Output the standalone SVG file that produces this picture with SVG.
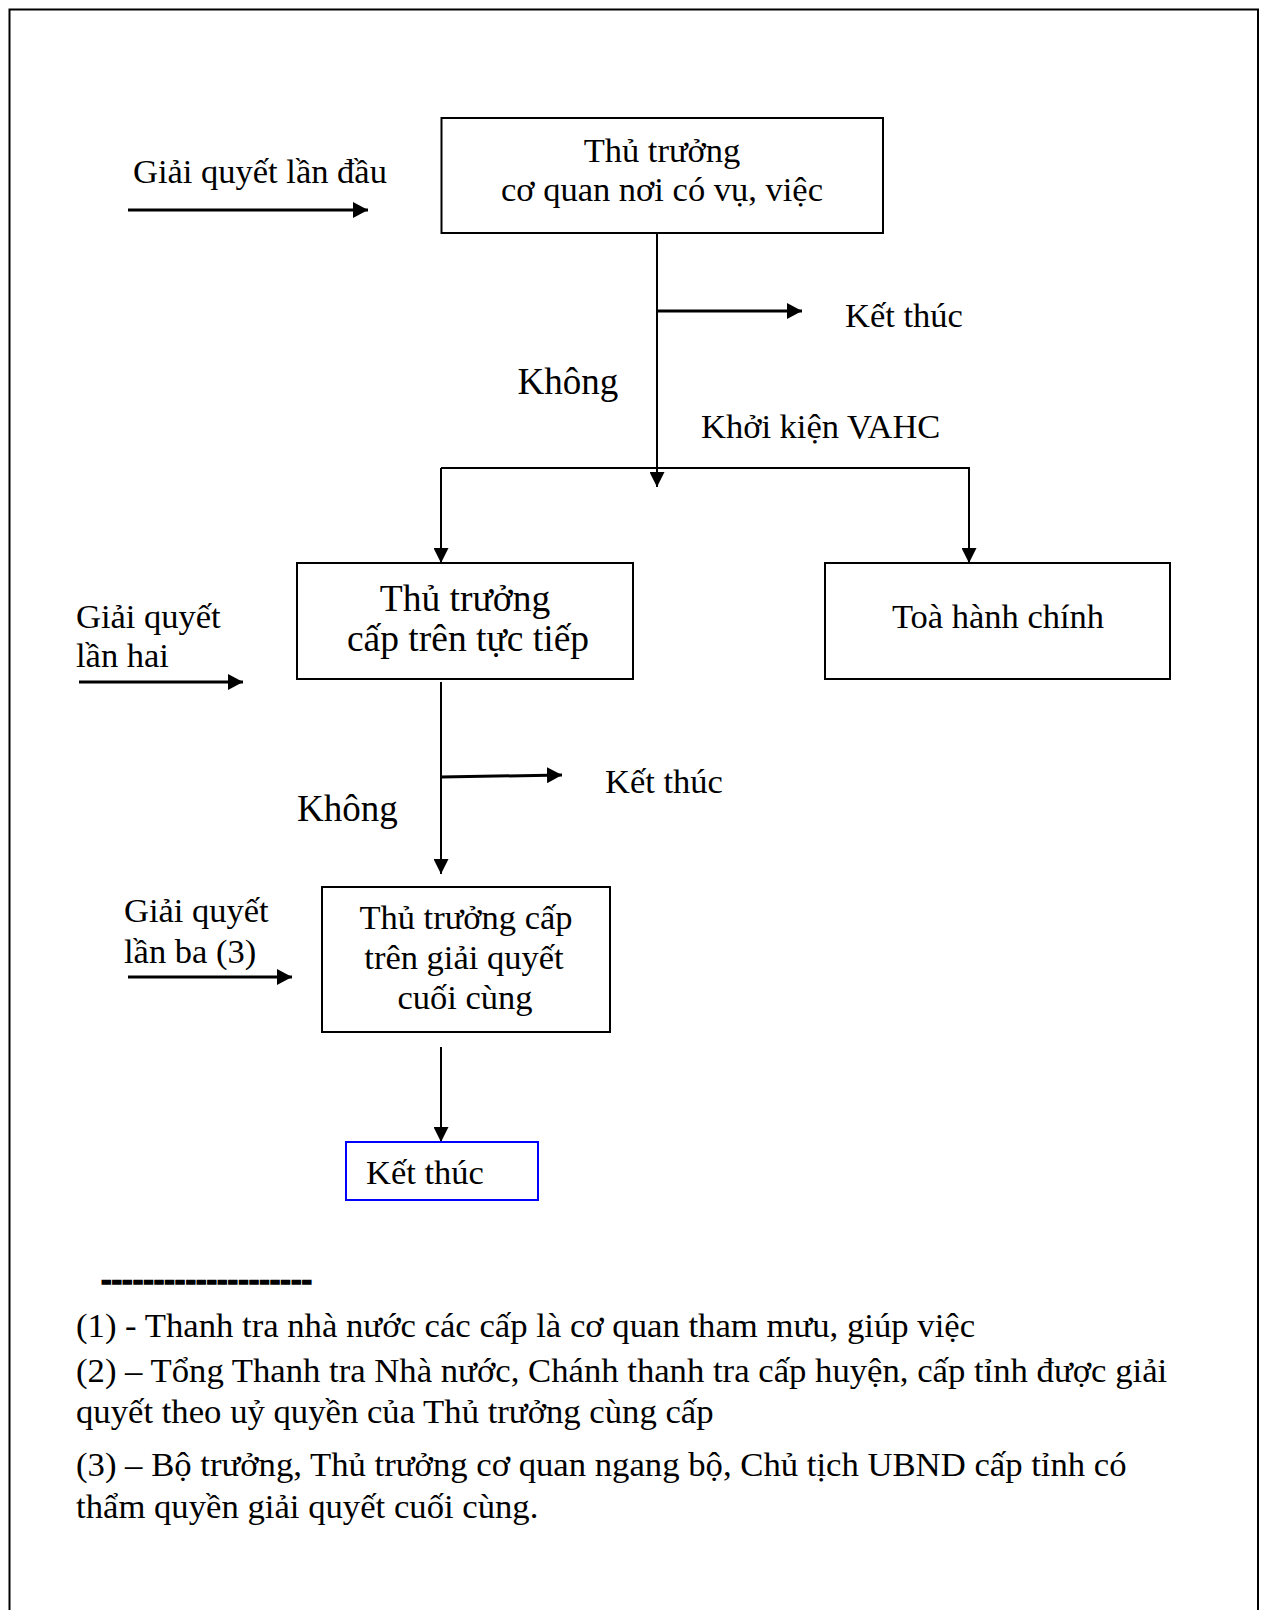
<svg xmlns="http://www.w3.org/2000/svg" width="1267" height="1610" viewBox="0 0 1267 1610">
<style>
  text { font-family: "Liberation Serif", "Times New Roman", serif; font-size: 34.5px; fill: #000; }
  .c { text-anchor: middle; }
  .big { font-size: 37.5px; }
  .note { font-size: 34.7px; }
  .dash { font-weight: bold; font-size: 40px; stroke: #000; stroke-width: 1.6px; }
  .box { fill: #fff; stroke: #000; stroke-width: 2; }
  .blue { fill: #fff; stroke: #0000ff; stroke-width: 2; }
  .thin { fill: none; stroke: #000; stroke-width: 2; }
  .thick { fill: none; stroke: #000; stroke-width: 3; }
</style>
<defs>
  <marker id="ahThin" viewBox="0 0 15 15" refX="15" refY="7.5" markerWidth="15" markerHeight="15" markerUnits="userSpaceOnUse" orient="auto">
    <path d="M0,0 L15,7.5 L0,15 Z" fill="#000"/>
  </marker>
  <marker id="ahThick" viewBox="0 0 15 16" refX="15" refY="8" markerWidth="15" markerHeight="16" markerUnits="userSpaceOnUse" orient="auto">
    <path d="M0,0 L15,8 L0,16 Z" fill="#000"/>
  </marker>
</defs>
<rect width="1267" height="1610" fill="#fff"/>
<path d="M9.5,1612 V9.5 H1258 V1612" fill="none" stroke="#000" stroke-width="2"/>

<g id="connectors">
  <line class="thick" x1="128" y1="210" x2="368" y2="210" marker-end="url(#ahThick)"/>
  <line class="thin" x1="657" y1="223" x2="657" y2="487" marker-end="url(#ahThin)"/>
  <line class="thick" x1="657" y1="311" x2="802" y2="311" marker-end="url(#ahThick)"/>
  <polyline class="thin" points="441,468 441,563" marker-end="url(#ahThin)"/>
  <polyline class="thin" points="441,468 969,468 969,563" marker-end="url(#ahThin)"/>
  <line class="thick" x1="79" y1="682" x2="243" y2="682" marker-end="url(#ahThick)"/>
  <line class="thin" x1="441" y1="682" x2="441" y2="874" marker-end="url(#ahThin)"/>
  <line class="thick" x1="441" y1="777" x2="562" y2="775" marker-end="url(#ahThick)"/>
  <line class="thick" x1="128" y1="977" x2="292" y2="977" marker-end="url(#ahThick)"/>
  <line class="thin" x1="441" y1="1047" x2="441" y2="1142" marker-end="url(#ahThin)"/>
</g>

<g id="label-lan-dau"><text x="133" y="183">Giải quyết lần đầu</text></g>

<g id="node-thu-truong-co-quan">
  <rect class="box" x="441.5" y="118" width="441.5" height="115"/>
  <text class="c" x="662" y="162">Thủ trưởng</text>
  <text class="c" x="662" y="201">cơ quan nơi có vụ, việc</text>
</g>

<g id="label-ket-thuc-1"><text x="845" y="327">Kết thúc</text></g>
<g id="label-khong-1"><text x="517.5" y="394" style="font-size:37px">Không</text></g>
<g id="label-khoi-kien"><text x="701" y="438">Khởi kiện VAHC</text></g>

<g id="node-cap-tren">
  <rect class="box" x="297" y="563" width="336" height="116"/>
  <text class="c big" x="465" y="611">Thủ trưởng</text>
  <text class="c big" x="468" y="651">cấp trên tực tiếp</text>
</g>

<g id="node-toa">
  <rect class="box" x="825" y="563" width="345" height="116"/>
  <text class="c" x="998" y="628">Toà hành chính</text>
</g>

<g id="label-lan-hai">
  <text x="76" y="628">Giải quyết</text>
  <text x="76" y="667">lần hai</text>
</g>

<g id="label-ket-thuc-2"><text x="605" y="793">Kết thúc</text></g>
<g id="label-khong-2"><text x="297" y="821" style="font-size:37px">Không</text></g>

<g id="node-cuoi-cung">
  <rect class="box" x="322" y="887" width="288" height="145"/>
  <text class="c" x="466" y="929">Thủ trưởng cấp</text>
  <text class="c" x="464" y="969">trên giải quyết</text>
  <text class="c" x="465" y="1009">cuối cùng</text>
</g>

<g id="label-lan-ba">
  <text x="124" y="922">Giải quyết</text>
  <text x="124" y="963">lần ba (3)</text>
</g>

<g id="node-ket-thuc">
  <rect class="blue" x="346" y="1142" width="192" height="58"/>
  <text x="366" y="1184">Kết thúc</text>
</g>

<g id="notes">
  <text class="dash" x="101" y="1292" textLength="211" lengthAdjust="spacingAndGlyphs">--------------------</text>
  <text class="note" x="76" y="1337">(1) - Thanh tra nhà nước các cấp là cơ quan tham mưu, giúp việc</text>
  <text class="note" x="76" y="1382">(2) – Tổng Thanh tra Nhà nước, Chánh thanh tra cấp huyện, cấp tỉnh được giải</text>
  <text class="note" x="76" y="1423">quyết theo uỷ quyền của Thủ trưởng cùng cấp</text>
  <text class="note" x="76" y="1476">(3) – Bộ trưởng, Thủ trưởng cơ quan ngang bộ, Chủ tịch UBND cấp tỉnh có</text>
  <text class="note" x="76" y="1518">thẩm quyền giải quyết cuối cùng.</text>
</g>
</svg>
